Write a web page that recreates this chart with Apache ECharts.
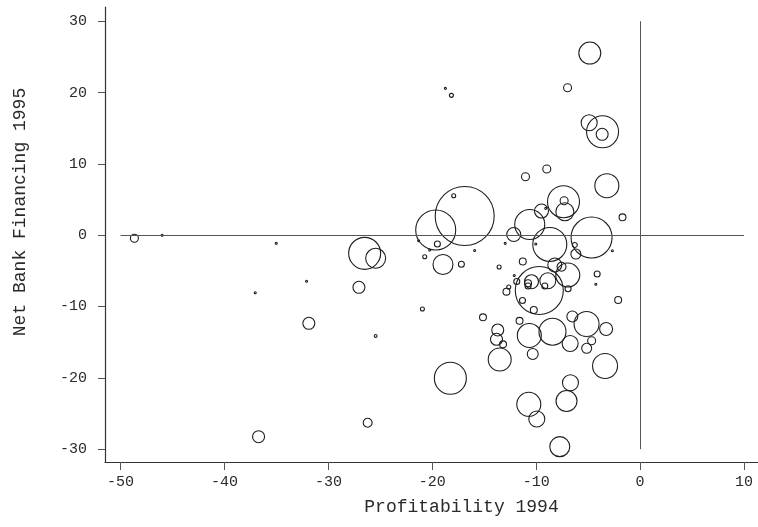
<!DOCTYPE html>
<html>
<head>
<meta charset="utf-8">
<script src="https://cdn.jsdelivr.net/npm/echarts@6/dist/echarts.min.js"></script>
<style>
  html, body { margin: 0; padding: 0; background: #fff; }
  #chart { width: 758px; height: 527px; }
</style>
</head>
<body>
<div id="chart"></div>
<script>
// Profitability in 1994 (x), net bank financing in 1995 (y), bubble weight (area)
const profitability1994 = [
  -4.84, -6.98, -18.74, -18.16, -4.90, -3.61, -3.65, -11.03, -8.98, -3.20,
  -1.69, -7.37, -7.31, -7.24, -9.49, -9.08, -10.62, -12.16, -8.69, -4.67,
  -16.88, -19.67, -17.94, -19.51, -21.31, -20.25, -15.92, -12.98, -10.04, -6.28,
  -2.67, -20.73, -18.97, -17.20, -13.57, -11.29, -8.21, -7.56, -6.96, -6.18,
  -4.13, -4.26, -12.11, -11.87, -12.64, -12.86, -10.78, -10.78, -10.45, -9.17,
  -8.88, -9.70, -6.93, -2.11, -11.32, -10.23, -11.60, -15.12, -20.95, -13.70,
  -13.82, -13.19, -10.66, -8.43, -10.33, -6.73, -6.52, -5.15, -3.27, -4.66,
  -5.14, -13.51, -3.37, -18.26, -6.70, -7.08, -10.71, -9.94, -7.73, -26.51,
  -25.45, -27.06, -48.67, -46.00, -35.02, -37.04, -32.10, -31.88, -25.45, -26.22,
  -36.72
];
const netBankFinancing1995 = [
  25.54, 20.68, 20.59, 19.61, 15.77, 14.51, 14.15, 8.20, 9.28, 6.94,
  2.51, 4.70, 4.84, 3.29, 3.39, 3.77, 1.50, 0.10, -1.30, -0.32,
  2.69, 0.73, 5.54, -1.23, -0.77, -2.07, -2.14, -1.14, -1.23, -1.37,
  -2.17, -3.01, -4.11, -4.08, -4.46, -3.69, -4.18, -4.42, -5.58, -2.64,
  -5.44, -6.88, -5.65, -6.49, -7.26, -7.92, -6.74, -7.12, -6.52, -7.12,
  -6.38, -7.75, -7.51, -9.08, -9.15, -10.49, -12.00, -11.51, -10.35, -13.29,
  -14.59, -15.30, -14.06, -13.53, -16.66, -15.18, -11.40, -12.45, -13.15, -14.79,
  -15.86, -17.43, -18.34, -20.06, -20.68, -23.24, -23.71, -25.77, -29.65, -2.54,
  -3.24, -7.30, -0.43, -0.01, -1.14, -8.06, -6.46, -12.35, -14.13, -26.29,
  -28.25
];
const weight = [
  121, 16, 1, 4, 64, 256, 36, 16, 16, 144,
  12, 256, 16, 81, 49, 1, 225, 49, 289, 420,
  870, 400, 4, 9, 1, 1, 1, 1, 1, 6,
  1, 4, 100, 9, 4, 12, 49, 20, 144, 25,
  9, 1, 1, 9, 4, 12, 12, 9, 49, 9,
  64, 576, 9, 12, 9, 12, 12, 12, 4, 36,
  36, 12, 144, 182, 30, 64, 30, 156, 42, 16,
  25, 132, 156, 256, 64, 110, 144, 64, 100, 256,
  100, 36, 16, 1, 1, 1, 1, 36, 2, 20,
  36
];

const xTicks = [-50, -40, -30, -20, -10, 0, 10];
const yTicks = [-30, -20, -10, 0, 10, 20, 30];

const points = profitability1994.map((x, i) => [x, netBankFinancing1995[i], weight[i]]);

const monoFont = '"Liberation Mono", "DejaVu Sans Mono", monospace';
const ink = '#2a2a2a';

const chart = echarts.init(document.getElementById('chart'), null, { renderer: 'canvas' });

chart.setOption({
  animation: false,
  backgroundColor: '#ffffff',
  grid: { left: 105, top: 7, width: 653, height: 455, containLabel: false },
  xAxis: {
    type: 'value',
    min: -51.5,
    max: 11.35,
    name: 'Profitability 1994',
    nameLocation: 'middle',
    nameGap: 36,
    nameTextStyle: { fontFamily: monoFont, fontSize: 18, color: ink, padding: [0, 0, 0, 60] },
    splitLine: { show: false },
    axisLine: { show: true, onZero: false, lineStyle: { color: '#333', width: 1.2 } },
    axisTick: { show: true, customValues: xTicks, length: 8, inside: false, lineStyle: { color: '#555' } },
    axisLabel: { customValues: xTicks, fontFamily: monoFont, fontSize: 15, color: ink, margin: 13 }
  },
  yAxis: {
    type: 'value',
    min: -31.8,
    max: 32,
    name: 'Net Bank Financing 1995',
    nameLocation: 'middle',
    nameGap: 76,
    nameTextStyle: { fontFamily: monoFont, fontSize: 18, color: ink, padding: [0, 0, 0, 45] },
    splitLine: { show: false },
    axisLine: { show: true, onZero: false, lineStyle: { color: '#333', width: 1.2 } },
    axisTick: { show: true, customValues: yTicks, length: 7, inside: false, lineStyle: { color: '#555' } },
    axisLabel: { customValues: yTicks, fontFamily: monoFont, fontSize: 15, color: ink, margin: 18 }
  },
  series: [{
    type: 'scatter',
    data: points,
    symbol: 'circle',
    symbolSize: v => 2 * Math.sqrt(v[2]),
    itemStyle: { color: 'rgba(0,0,0,0)', borderColor: '#1e1e1e', borderWidth: 1.1, opacity: 1 },
    emphasis: { disabled: true },
    silent: true,
    markLine: {
      silent: true,
      symbol: 'none',
      label: { show: false },
      lineStyle: { color: '#555', width: 1, type: 'solid' },
      data: [
        [{ coord: [-50, 0] }, { coord: [10, 0] }],
        [{ coord: [0, -30] }, { coord: [0, 30] }]
      ]
    }
  }]
});
</script>
</body>
</html>
